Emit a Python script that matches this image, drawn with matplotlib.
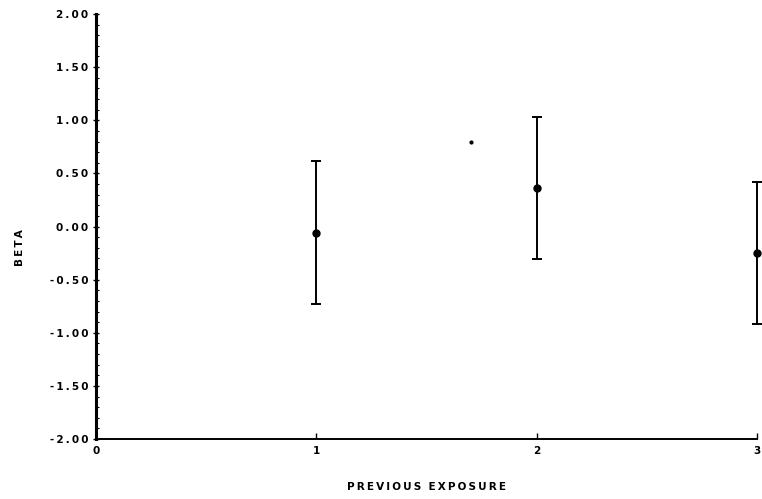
import matplotlib
matplotlib.use("Agg")
import matplotlib.pyplot as plt
from matplotlib.ticker import MultipleLocator

# estimates with their confidence limits
exposure = [1, 2, 3]
beta = [-0.06, 0.36, -0.25]
upper = [0.62, 1.03, 0.42]
lower = [-0.73, -0.31, -0.92]

# stray speck on the plot
speck_x = [1.70]
speck_y = [0.80]

yticks = [-2.0, -1.5, -1.0, -0.5, 0.0, 0.5, 1.0, 1.5, 2.0]
xticks = [0, 1, 2, 3]

THIN = "\u2009"


def spaced(s):
    # widen the letter spacing like the old plotter font
    return THIN.join(s)


tick_font = dict(family="DejaVu Sans", weight="bold", size=7.5)
label_font = dict(family="DejaVu Sans", weight="bold", size=7.5)

fig = plt.figure(figsize=(7.62, 4.99), dpi=100)
ax = fig.add_axes([0.126, 0.120, 0.8674, 0.852])

err = [[b - l for b, l in zip(beta, lower)], [u - b for b, u in zip(beta, upper)]]
ax.errorbar(exposure, beta, yerr=err, fmt="o", color="black", ms=5,
            elinewidth=1.4, capsize=3.5, capthick=1.4, clip_on=False)
ax.plot(speck_x, speck_y, "o", color="black", ms=2)

ax.set_xlim(0, 3)
ax.set_ylim(-2, 2)
ax.set_xticks(xticks)
ax.set_xticklabels([str(t) for t in xticks], **tick_font)
ax.set_yticks(yticks)
ax.set_yticklabels([spaced("%.2f" % t) for t in yticks], **tick_font)
ax.yaxis.set_minor_locator(MultipleLocator(0.1))

for s in ("top", "right"):
    ax.spines[s].set_visible(False)
ax.spines["left"].set_linewidth(2.2)
ax.spines["bottom"].set_linewidth(1.4)

ax.tick_params(axis="y", which="major", direction="inout", length=5, width=1, pad=3)
ax.tick_params(axis="y", which="minor", direction="in", length=2, width=0.8)
ax.tick_params(axis="x", direction="in", length=4, width=1, pad=5)

ax.set_xlabel(spaced("PREVIOUS") + "  " + spaced("EXPOSURE"), **label_font)
ax.xaxis.set_label_coords(0.5, -0.102)
ax.set_ylabel(spaced("BETA"), **label_font)
ax.yaxis.set_label_coords(-0.108, 0.45)

fig.savefig("out.png", dpi=100)
